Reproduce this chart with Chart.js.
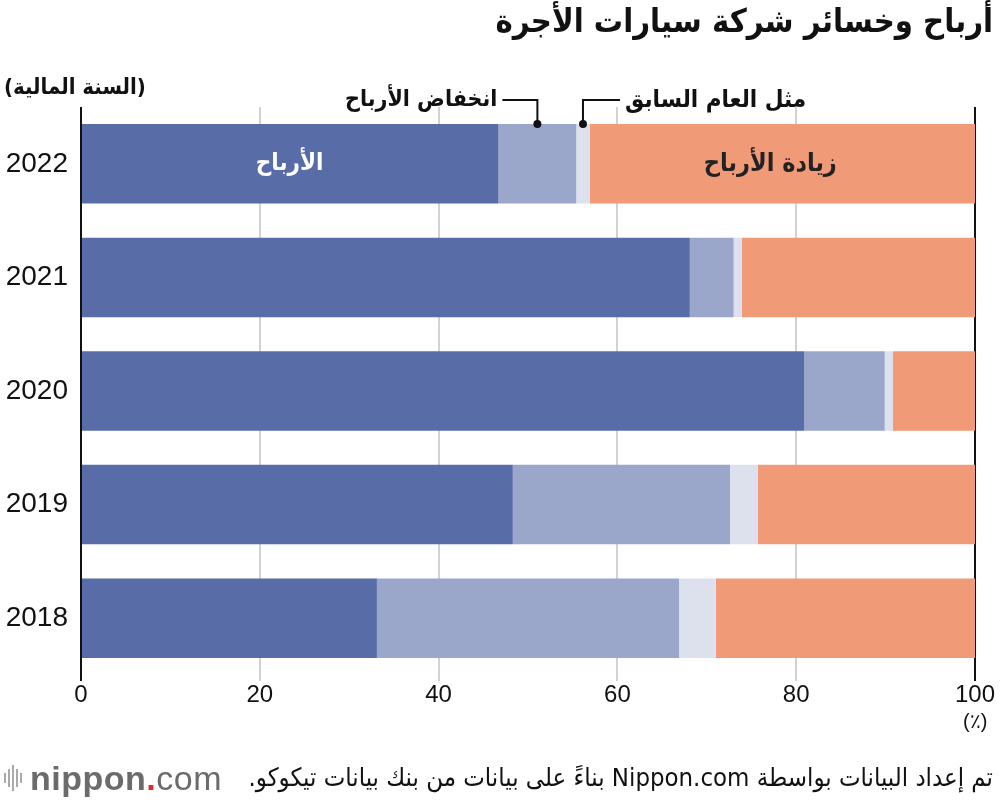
<!DOCTYPE html>
<html lang="ar"><head><meta charset="utf-8">
<script src="https://cdn.jsdelivr.net/npm/chart.js@4"></script>
<style>
html,body{margin:0;padding:0;background:#fff;width:1000px;height:802px;overflow:hidden}
#wrap{position:relative;width:1000px;height:802px}
canvas{position:absolute;left:0;top:0}
.t{position:absolute;white-space:nowrap;font-family:"DejaVu Sans Condensed","DejaVu Sans",sans-serif;color:#111;line-height:1}
.logo{position:absolute;left:4px;top:760px;height:36px;display:flex;align-items:center}
.logo i{display:inline-block;width:2px;background:#aaa;margin-right:2px}
.logo span{font-family:"Liberation Sans",Arial,sans-serif;font-size:34px;color:#6b6b6b;letter-spacing:0.5px}
</style></head><body>
<div id="wrap">
<canvas id="c" width="1000" height="802"></canvas>
<div class="t" id="title" dir="rtl" style="right:7px;top:5px;font-size:32.5px;font-weight:bold">أرباح وخسائر شركة سيارات الأجرة</div>
<div class="t" id="fy" dir="rtl" style="left:4px;top:76px;font-size:22px;font-weight:bold">(السنة المالية)</div>
<div class="t" id="annSame" dir="rtl" style="font-size:24px;font-weight:bold"></div>
<div class="t" id="annDec" dir="rtl" style="font-size:23px;font-weight:bold"></div>
<div class="t" id="inProfit" dir="rtl" style="font-size:24px;font-weight:bold;color:#fff"></div>
<div class="t" id="inInc" dir="rtl" style="font-size:25px;font-weight:bold;color:#222"></div>
<div class="t" id="pct" style="font-family:'Liberation Sans',Arial,sans-serif;font-size:20px">(٪)</div>
<div class="logo"><i style="height:10px"></i><i style="height:18px"></i><i style="height:26px"></i><i style="height:18px"></i><i style="height:10px;margin-right:8px"></i><span><b style="font-weight:bold">nippon</b><b style="color:#e8262d">.</b>com</span></div>
<div class="t" id="src" dir="rtl" style="right:7px;top:765px;font-size:25.5px">تم إعداد البيانات بواسطة Nippon.com بناءً على بيانات من بنك بيانات تيكوكو.</div>
</div>
<script>
const years = ['2022','2021','2020','2019','2018'];
const seriesNames = ['الأرباح','انخفاض الأرباح','مثل العام السابق','زيادة الأرباح'];
const profit   = [46.7, 68.1, 80.9, 48.3, 33.1];
const decrease = [8.7, 4.9, 9.0, 24.3, 33.8];
const same     = [1.5, 0.9, 0.9, 3.1, 4.1];
const increase = [43.1, 26.1, 9.2, 24.3, 29.0];
const xTicks = [0, 20, 40, 60, 80, 100];
const colors = ['#586ca8', '#9aa7ca', '#dde1ee', '#f19a78'];

const annotate = {
  id: 'annotate',
  afterDatasetsDraw(chart) {
    const ctx = chart.ctx, xs = chart.scales.x;
    const m1 = chart.getDatasetMeta(1).data[0];
    const top = m1.y - m1.height / 2;
    const lineY = top - 24;
    const decX = xs.getPixelForValue(profit[0] + decrease[0] / 2);
    const sameX = xs.getPixelForValue(profit[0] + decrease[0] + same[0] / 2);
    ctx.save();
    ctx.strokeStyle = '#111'; ctx.fillStyle = '#111'; ctx.lineWidth = 2;
    ctx.beginPath();
    ctx.moveTo(decX, top); ctx.lineTo(decX, lineY); ctx.lineTo(decX - 35, lineY);
    ctx.moveTo(sameX, top); ctx.lineTo(sameX, lineY); ctx.lineTo(sameX + 37, lineY);
    ctx.stroke();
    [decX, sameX].forEach(x => { ctx.beginPath(); ctx.arc(x, top, 4, 0, Math.PI * 2); ctx.fill(); });
    ctx.restore();
    const a1 = document.getElementById('annSame');
    a1.textContent = seriesNames[2];
    a1.style.left = (sameX + 42) + 'px'; a1.style.top = (lineY - 13) + 'px';
    const a2 = document.getElementById('annDec');
    a2.textContent = seriesNames[1];
    a2.style.right = (1000 - (decX - 40)) + 'px'; a2.style.top = (lineY - 13) + 'px';
    const b0 = chart.getDatasetMeta(0).data[0];
    const p = document.getElementById('inProfit');
    p.textContent = seriesNames[0];
    p.style.left = ((xs.getPixelForValue(0) + b0.x) / 2 - p.offsetWidth / 2) + 'px';
    p.style.top = (b0.y - 14) + 'px';
    const b3 = chart.getDatasetMeta(3).data[0];
    const q = document.getElementById('inInc');
    q.textContent = seriesNames[3];
    const s3 = xs.getPixelForValue(100 - increase[0]);
    q.style.left = ((s3 + b3.x) / 2 - q.offsetWidth / 2 - 12) + 'px';
    q.style.top = (b3.y - 14) + 'px';
    const pc = document.getElementById('pct');
    pc.style.left = (xs.getPixelForValue(100) - pc.offsetWidth / 2) + 'px';
    pc.style.top = (chart.chartArea.bottom + 36) + 'px';
  }
};

new Chart(document.getElementById('c'), {
  type: 'bar',
  data: {
    labels: years,
    datasets: [profit, decrease, same, increase].map((d, i) => ({
      label: seriesNames[i], data: d, backgroundColor: colors[i],
      borderWidth: 0, barPercentage: 0.7, categoryPercentage: 1
    }))
  },
  options: {
    indexAxis: 'y', responsive: false, animation: false,
    layout: { padding: { top: 107, right: 25, left: 0, bottom: 0 } },
    plugins: { legend: { display: false }, tooltip: { enabled: false } },
    scales: {
      x: {
        stacked: true, min: 0, max: 100,
        afterBuildTicks: s => { s.ticks = xTicks.map(v => ({ value: v })); },
        afterFit: s => { s.height = 127; },
        border: { display: false },
        grid: {
          color: c => (c.tick && (c.tick.value === 0 || c.tick.value === 100)) ? '#111' : '#d2d2d2',
          lineWidth: 2, tickLength: 6, drawOnChartArea: true
        },
        ticks: { color: '#111', padding: 0, font: { family: 'Liberation Sans', size: 24 } }
      },
      y: {
        stacked: true,
        afterFit: s => { s.width = 81; },
        border: { display: false },
        grid: { display: false, drawTicks: false },
        ticks: { color: '#111', padding: 13, font: { family: 'Liberation Sans', size: 28 } }
      }
    }
  },
  plugins: [annotate]
});
</script>
</body></html>
